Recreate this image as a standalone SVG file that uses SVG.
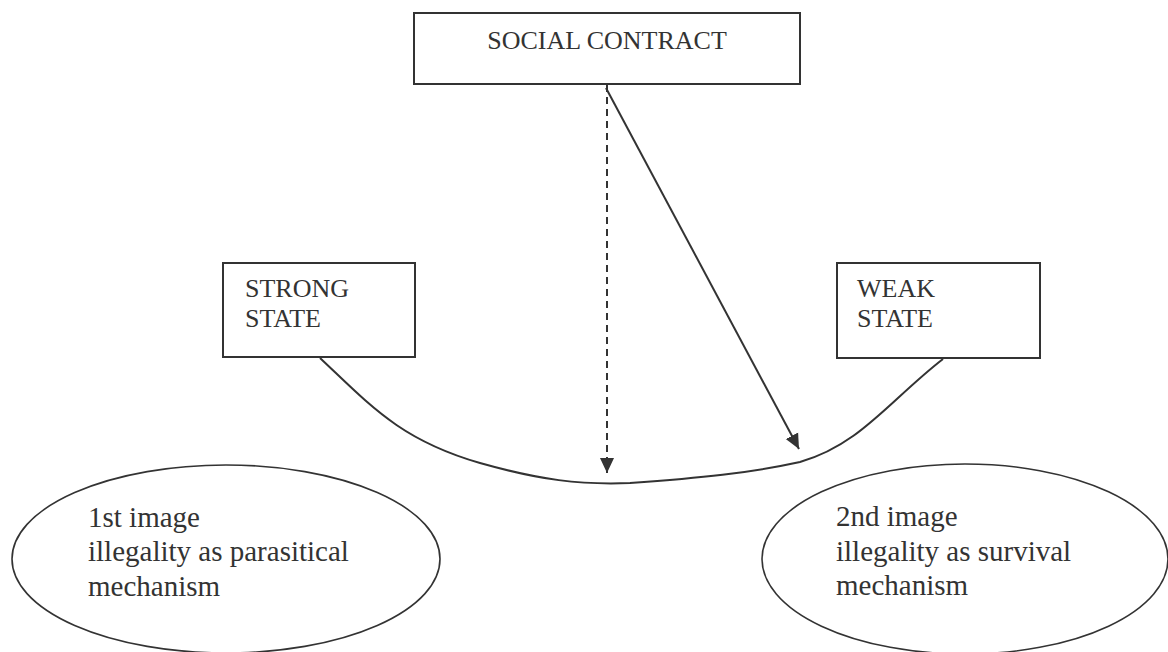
<svg xmlns="http://www.w3.org/2000/svg" width="1168" height="652" viewBox="0 0 1168 652">
<style>
.box{fill:#fff;stroke:#333;stroke-width:2}
.ell{fill:none;stroke:#333;stroke-width:1.6}
.t{font-family:"Liberation Serif","Times New Roman",serif;fill:#333}
.bt{font-size:26px}
.et{font-size:29px}
.con{fill:none;stroke:#333;stroke-width:2}
.dash{stroke-dasharray:7 5}
</style>
<defs>
<marker id="ah" markerUnits="userSpaceOnUse" markerWidth="16" markerHeight="16" viewBox="0 0 16 16" refX="15" refY="8" orient="auto">
<path d="M0,1 L15,8 L0,15 Z" fill="#333"/>
</marker>
</defs>
<g id="connectors">
<path class="con" d="M320,358 C370,405 400,440 480,463 C540,480 580,485 630,483 C700,478 750,473 800,462 C860,445 890,400 943,359"/>
<line class="con dash" x1="607" y1="85" x2="607" y2="473" marker-end="url(#ah)"/>
<line class="con" x1="606" y1="88" x2="799" y2="449" marker-end="url(#ah)"/>
</g>
<g id="social-contract">
<rect class="box" x="414" y="13" width="386" height="71"/>
<text class="t bt" x="607" y="49" text-anchor="middle">SOCIAL CONTRACT</text>
</g>
<g id="strong-state">
<rect class="box" x="223" y="263" width="192" height="94"/>
<text class="t bt" x="245" y="297">STRONG</text>
<text class="t bt" x="245" y="327">STATE</text>
</g>
<g id="weak-state">
<rect class="box" x="837" y="263" width="203" height="95"/>
<text class="t bt" x="857" y="297">WEAK</text>
<text class="t bt" x="857" y="327">STATE</text>
</g>
<g id="first-image">
<ellipse class="ell" cx="226" cy="559" rx="214" ry="94"/>
<text class="t et" x="88" y="527">1st image</text>
<text class="t et" x="88" y="561">illegality as parasitical</text>
<text class="t et" x="88" y="596">mechanism</text>
</g>
<g id="second-image">
<ellipse class="ell" cx="965" cy="559" rx="203" ry="95"/>
<text class="t et" x="836" y="526">2nd image</text>
<text class="t et" x="836" y="561">illegality as survival</text>
<text class="t et" x="836" y="595">mechanism</text>
</g>
</svg>
